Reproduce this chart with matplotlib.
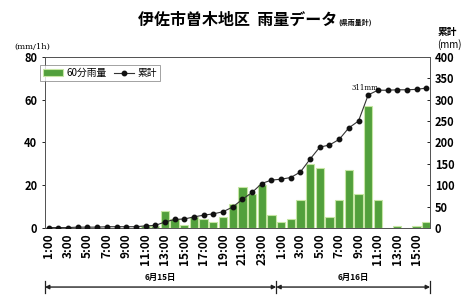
'''
伊佐市曽木地区 雨量データ
'''

# Imports
import numpy as np
import matplotlib
matplotlib.use('Agg')
import matplotlib.pyplot as plt
from matplotlib.lines import Line2D

plt.rcParams['font.family'] = ['Noto Sans CJK JP', 'DejaVu Sans']

# Data
hours_15 = [str(h) + ':00' for h in range(1, 25)]
hours_16 = [str(h) + ':00' for h in range(1, 17)]
rain_15 = [0, 0, 0, 0, 0, 0, 0, 0, 0, 0, 1, 1, 8, 4, 1.5, 5, 4, 3, 5, 11, 19, 16, 20, 6]
rain_16 = [3, 4, 13, 30, 28, 5, 13, 27, 16, 57, 13, 0, 1, 0, 1, 3]
cum_15 = [1, 1, 1, 2, 2, 2, 3, 3, 3, 3, 5, 6, 14, 20, 21, 26, 30, 33, 38, 49, 67, 83, 104, 112]
cum_16 = [114, 118, 131, 161, 189, 194, 207, 234, 250, 311, 322, 322, 323, 323, 324, 327]
day_labels = ['6月15日', '6月16日']
peak_label = '311mm'

labels = hours_15 + hours_16
rain = rain_15 + rain_16
cum = cum_15 + cum_16
x = np.arange(len(labels))

# Figure
fig = plt.figure(figsize=(4.63, 3.04), dpi=100)
ax = fig.add_axes([0.097, 0.25, 0.832, 0.563])
ax2 = ax.twinx()

ax.bar(x, rain, width=0.86, color='#52a03c', edgecolor='#c6e6a4', linewidth=0.8,
       label='60分雨量', zorder=2)
ax2.plot(x, cum, color='#333333', lw=0.8, marker='o', ms=3.2, mfc='#111111',
         mec='#111111', label='累計', zorder=3)

ipk = int(np.argmax(np.diff(cum))) + 1
ax2.text(x[ipk] - 0.3, cum[ipk] + 6, peak_label, fontsize=5, ha='center',
         va='bottom', family='DejaVu Serif')

ax.set_xlim(-0.4, len(labels) - 0.6)
ax.set_ylim(0, 80)
ax2.set_ylim(0, 400)
ax.set_yticks([0, 20, 40, 60, 80])
ax2.set_yticks(range(0, 401, 50))
ax.set_xticks(x[::2])
ax.set_xticklabels(labels[::2], rotation=90, fontsize=8.5, fontweight='bold')
ax.tick_params(axis='y', labelsize=8, length=2, width=0.6)
ax2.tick_params(axis='y', labelsize=8, length=2, width=0.6, direction='in')
ax.tick_params(axis='x', length=0, pad=4)
for lbl in ax.get_yticklabels() + ax2.get_yticklabels():
    lbl.set_fontweight('bold')
for sp in list(ax.spines.values()) + list(ax2.spines.values()):
    sp.set_color('#555555')
    sp.set_linewidth(0.7)

# Legend
h1, l1 = ax.get_legend_handles_labels()
h2, l2 = ax2.get_legend_handles_labels()
leg = ax2.legend(h1 + h2, l1 + l2, loc='upper left', bbox_to_anchor=(-0.025, 0.98),
                 ncol=2, fontsize=7, frameon=True, fancybox=False, borderpad=0.3,
                 handlelength=2.0, handletextpad=0.4, columnspacing=0.8)
leg.get_frame().set_edgecolor('#777777')
leg.get_frame().set_linewidth(0.6)

# Titles
fig.text(0.728, 0.934, '伊佐市曽木地区  雨量データ', fontsize=11.5, fontweight='bold',
         ha='right', va='center')
fig.text(0.73, 0.928, '(県雨量計)', fontsize=5, fontweight='bold', ha='left', va='center')
fig.text(0.03, 0.845, '(mm/1h)', fontsize=6, ha='left', va='center', family='DejaVu Serif')
fig.text(0.945, 0.895, '累計', fontsize=7, fontweight='bold', ha='left', va='center')
fig.text(0.945, 0.855, '(mm)', fontsize=7, ha='left', va='center')

# Day arrows
tr = ax.get_xaxis_transform()
x0, x1 = ax.get_xlim()
split = len(hours_15) - 0.5
spans = [(x0, split), (split, x1)]
for (a, b), name in zip(spans, day_labels):
    ax.annotate('', xy=(a, -0.345), xytext=(b, -0.345), xycoords=tr, textcoords=tr,
                arrowprops=dict(arrowstyle='<|-|>', color='#222222', lw=1.0,
                                mutation_scale=6, shrinkA=0, shrinkB=0),
                annotation_clip=False)
    ax.text((a + b) / 2, -0.29, name, transform=tr, fontsize=6, fontweight='bold',
            ha='center', va='center')
for xv in [x0, split, x1]:
    ax.add_line(Line2D([xv, xv], [-0.38, -0.31], transform=tr, color='#222222',
                       lw=0.9, clip_on=False))

fig.savefig('out.png', dpi=100, facecolor='white')
